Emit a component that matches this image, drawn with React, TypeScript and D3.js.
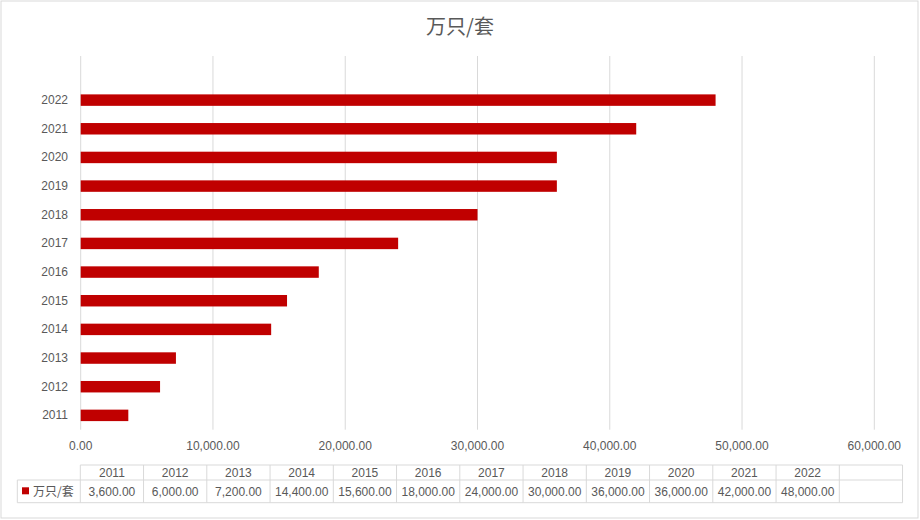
import React from "react";
import * as d3 from "d3";

const years = ["2011", "2012", "2013", "2014", "2015", "2016", "2017", "2018", "2019", "2020", "2021", "2022"];
const values = [3600, 6000, 7200, 14400, 15600, 18000, 24000, 30000, 36000, 36000, 42000, 48000];
const xTicks = [0, 10000, 20000, 30000, 40000, 50000, 60000];
const seriesName = "万只/套";
const title = "万只/套";

const W = 920;
const H = 520;
const FONT = "'Liberation Sans', 'Noto Sans CJK SC', sans-serif";
const TEXT = "#595959";
const GRID = "#d9d9d9";
const BAR = "#C00000";

export default function App() {
  const x = d3.scaleLinear().domain([0, 60000]).range([80.7, 874.3]);
  const plotTop = 56;
  const plotBottom = 429.7;
  const step = 28.66;
  const y = d3
    .scaleBand<string>()
    .domain([...years].reverse())
    .range([plotBottom - step * years.length, plotBottom])
    .paddingInner(0.6)
    .paddingOuter(0.3);
  const fmt = d3.format(",.2f");

  const tLeft = 80.3;
  const colW = 63.25;
  const tTop = 465;
  const tMid = 480;
  const tBot = 502.7;
  const legLeft = 17.3;
  const nCols = years.length + 1;
  const tRight = tLeft + colW * nCols;

  return (
    <svg
      width={W}
      height={H}
      style={{ position: "absolute", left: 0, top: 0, background: "#fff" }}
      fontFamily={FONT}
    >
      <rect x={1} y={1} width={917} height={517} fill="#fff" stroke={GRID} strokeWidth={1} />
      <text x={460} y={34} textAnchor="middle" fontSize={20} fill={TEXT} fontFamily="'Noto Sans CJK SC', sans-serif">
        {title}
      </text>
      {xTicks.map((t) => (
        <line key={"g" + t} x1={x(t)} x2={x(t)} y1={plotTop} y2={plotBottom} stroke={GRID} strokeWidth={1} />
      ))}
      {xTicks.map((t) => (
        <text key={"xl" + t} x={x(t)} y={450} textAnchor="middle" fontSize={12} fill={TEXT}>
          {fmt(t)}
        </text>
      ))}
      {years.map((yr, i) => (
        <rect
          key={"b" + yr}
          x={x(0)}
          y={y(yr)}
          width={x(values[i]) - x(0)}
          height={y.bandwidth()}
          fill={BAR}
        />
      ))}
      {years.map((yr) => (
        <text
          key={"yl" + yr}
          x={68}
          y={(y(yr) as number) + y.bandwidth() / 2 + 4}
          textAnchor="end"
          fontSize={12}
          fill={TEXT}
        >
          {yr}
        </text>
      ))}
      {/* data table */}
      <g stroke={GRID} strokeWidth={1} fill="none">
        <line x1={tLeft} x2={tRight} y1={tTop} y2={tTop} />
        <line x1={legLeft} x2={tRight} y1={tMid} y2={tMid} />
        <line x1={legLeft} x2={tRight} y1={tBot} y2={tBot} />
        <line x1={legLeft} x2={legLeft} y1={tMid} y2={tBot} />
        {d3.range(nCols + 1).map((c) => (
          <line key={"c" + c} x1={tLeft + c * colW} x2={tLeft + c * colW} y1={tTop} y2={tBot} />
        ))}
      </g>
      {years.map((yr, i) => (
        <text key={"th" + yr} x={tLeft + (i + 0.5) * colW} y={477} textAnchor="middle" fontSize={12} fill={TEXT}>
          {yr}
        </text>
      ))}
      {years.map((yr, i) => (
        <text key={"tv" + yr} x={tLeft + (i + 0.5) * colW} y={495.5} textAnchor="middle" fontSize={12} fill={TEXT}>
          {fmt(values[i])}
        </text>
      ))}
      <rect x={22} y={487.3} width={7} height={7} fill={BAR} />
      <text x={33} y={495.5} fontSize={12} fill={TEXT} fontFamily="'Noto Sans CJK SC', sans-serif">
        {seriesName}
      </text>
    </svg>
  );
}
